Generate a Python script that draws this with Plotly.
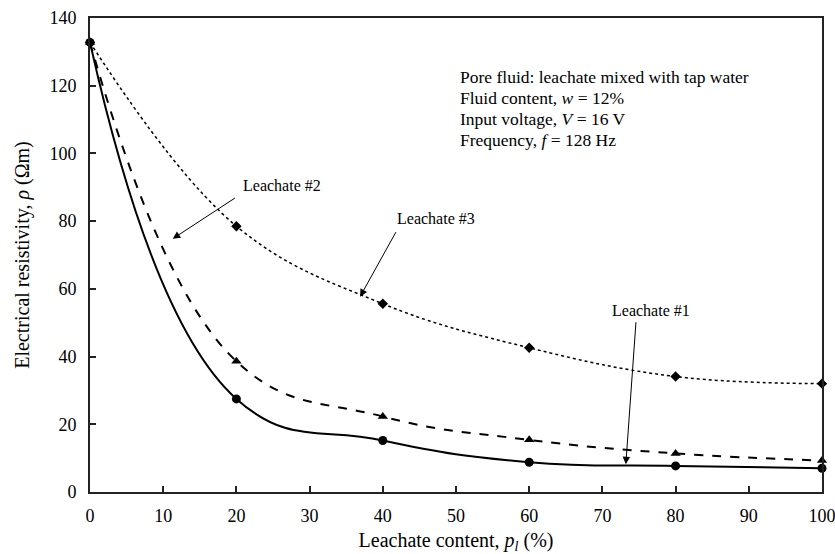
import plotly.graph_objects as go

# Data
leachate_content = [0, 20, 40, 60, 80, 100]
leachate1 = [132.8, 27.5, 15.2, 8.8, 7.7, 7.0]
leachate2 = [132.8, 38.6, 22.3, 15.4, 11.4, 9.3]
leachate3 = [132.8, 78.5, 55.6, 42.6, 34.1, 32.0]

x_ticks = [0, 10, 20, 30, 40, 50, 60, 70, 80, 90, 100]
y_ticks = [0, 20, 40, 60, 80, 100, 120, 140]

info_lines = [
    "Pore fluid: leachate mixed with tap water",
    "Fluid content, <i>w</i> = 12%",
    "Input voltage, <i>V</i> = 16 V",
    "Frequency, <i>f</i> = 128 Hz",
]

FONT = "Liberation Serif, Times New Roman, serif"

fig = go.Figure()

fig.add_trace(go.Scatter(
    x=leachate_content, y=leachate1, mode="lines+markers", name="Leachate #1",
    line=dict(color="black", width=2, shape="spline", smoothing=1.25),
    marker=dict(symbol="circle", size=9, color="black"), cliponaxis=False))
fig.add_trace(go.Scatter(
    x=leachate_content, y=leachate2, mode="lines+markers", name="Leachate #2",
    line=dict(color="black", width=2, dash="dash", shape="spline", smoothing=1.2),
    marker=dict(symbol="triangle-up", size=9, color="black"), cliponaxis=False))
fig.add_trace(go.Scatter(
    x=leachate_content, y=leachate3, mode="lines+markers", name="Leachate #3",
    line=dict(color="black", width=1.5, dash="dot", shape="spline", smoothing=1.1),
    marker=dict(symbol="diamond", size=8, color="black"), cliponaxis=False))

# Labels with arrows
labels = [
    # text, text_x, text_y, tail_x, tail_y, head_x, head_y
    ("Leachate #2", 26.2, 90.6, 20.0, 87.1, 11.3, 74.8),
    ("Leachate #3", 47.2, 80.7, 41.9, 77.2, 36.9, 57.7),
    ("Leachate #1", 76.6, 53.6, 74.6, 50.6, 73.2, 8.2),
]
for txt, tx, ty, ax, ay, hx, hy in labels:
    fig.add_annotation(x=tx, y=ty, text=txt, showarrow=False,
                       font=dict(family=FONT, size=16, color="black"))
    fig.add_annotation(x=hx, y=hy, ax=ax, ay=ay, axref="x", ayref="y",
                       text="", showarrow=True, arrowhead=2, arrowsize=1.5,
                       arrowwidth=1, arrowcolor="black", standoff=0)

for i, line in enumerate(info_lines):
    fig.add_annotation(x=50.3, y=126.0, xanchor="left", yanchor="top", align="left",
                       text=line, showarrow=False, yshift=-21 * i,
                       font=dict(family=FONT, size=17.5, color="black"))

axis_common = dict(
    showgrid=False, zeroline=False, showline=True, linecolor="#222", linewidth=2,
    mirror=True, ticks="inside", ticklen=6, tickwidth=1.5, tickcolor="#222",
    tickfont=dict(family=FONT, size=18, color="black"), automargin=False,
    ticklabeloverflow="allow",
)

fig.update_xaxes(range=[0, 100], tickvals=x_ticks,
                 title=dict(text="Leachate content, <i>p</i><sub><i>l</i></sub> (%)",
                            font=dict(family=FONT, size=20, color="black"), standoff=8),
                 ticklabelstandoff=6, **axis_common)
fig.update_yaxes(range=[0, 140], tickvals=y_ticks,
                 title=dict(text="Electrical resistivity, <i>ρ</i> (Ωm)",
                            font=dict(family=FONT, size=20, color="black"), standoff=14),
                 ticklabelstandoff=8, **axis_common)

fig.update_layout(
    width=835, height=554,
    margin=dict(l=90, r=13, t=18, b=62),
    plot_bgcolor="white", paper_bgcolor="white",
    showlegend=False,
    font=dict(family=FONT, color="black"),
)

fig.write_html("out.html",
               config={"displayModeBar": False},
               post_script="document.body.style.margin='0';document.body.style.overflow='hidden';")
